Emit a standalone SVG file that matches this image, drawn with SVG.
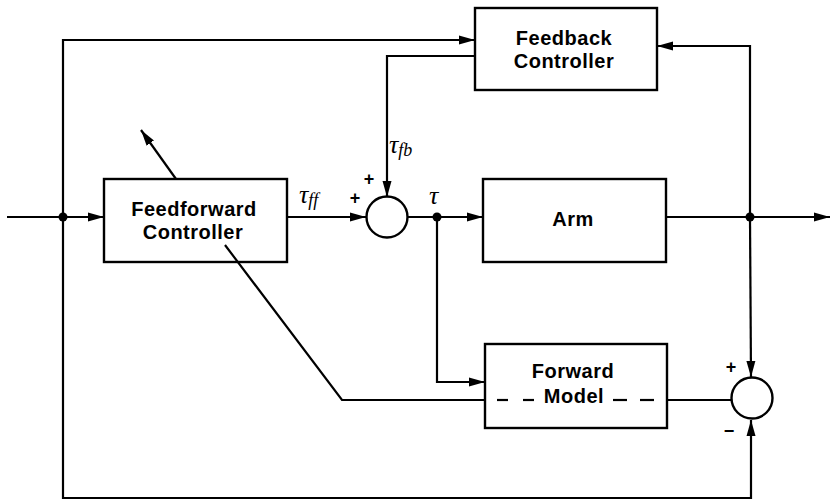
<svg xmlns="http://www.w3.org/2000/svg" width="832" height="502" viewBox="0 0 832 502">
<style>
.ln{fill:none;stroke:#000;stroke-width:2.2;stroke-linejoin:miter}
.box{fill:none;stroke:#000;stroke-width:2.4}
.lbl{font-family:"Liberation Sans",Arial,sans-serif;font-weight:bold;font-size:20px;text-anchor:middle;fill:#000;letter-spacing:0.5px}
.sym{font-family:"Liberation Serif","Times New Roman",serif;font-style:italic;fill:#000}
.pm{font-family:"Liberation Sans",Arial,sans-serif;font-weight:bold;font-size:18px;fill:#000;text-anchor:middle}
.dash{stroke:#000;stroke-width:2.2}
</style>
<defs>
<marker id="arr" markerUnits="userSpaceOnUse" markerWidth="18" markerHeight="12" refX="16" refY="6" orient="auto">
<path d="M0,1.5 L16,6 L0,10.5 z" fill="#000"/>
</marker>
</defs>
<rect width="832" height="502" fill="#fff"/>
<g id="connectors">
<line class="ln" x1="7" y1="217" x2="104" y2="217" marker-end="url(#arr)"/>
<polyline class="ln" points="63,217 63,40 475,40" marker-end="url(#arr)"/>
<polyline class="ln" points="63,217 63,498 751,498 751,420" marker-end="url(#arr)"/>
<line class="ln" x1="287" y1="217" x2="366" y2="217" marker-end="url(#arr)"/>
<polyline class="ln" points="475,56 387,56 387,197" marker-end="url(#arr)"/>
<line class="ln" x1="407" y1="217" x2="483" y2="217" marker-end="url(#arr)"/>
<polyline class="ln" points="437,217 437,382 485,382" marker-end="url(#arr)"/>
<line class="ln" x1="666" y1="217" x2="830" y2="217" marker-end="url(#arr)"/>
<polyline class="ln" points="750,217 750,46 657,46" marker-end="url(#arr)"/>
<line class="ln" x1="750" y1="217" x2="751" y2="377" marker-end="url(#arr)"/>
<line class="ln" x1="176" y1="179" x2="141" y2="130" marker-end="url(#arr)"/>
<polyline class="ln" points="225,245 342,400 485,400"/>
<line class="ln" x1="667" y1="400" x2="731" y2="400"/>
<circle cx="63" cy="217" r="4.5" fill="#000"/>
<circle cx="437" cy="217" r="4.5" fill="#000"/>
<circle cx="750" cy="217" r="4.5" fill="#000"/>
</g>
<g id="feedforward">
<rect class="box" x="104" y="179" width="183" height="83"/>
<text class="lbl" x="194" y="216">Feedforward</text>
<text class="lbl" x="193" y="239">Controller</text>
</g>
<g id="feedback">
<rect class="box" x="475" y="8" width="182" height="82"/>
<text class="lbl" x="564" y="45">Feedback</text>
<text class="lbl" x="564" y="68">Controller</text>
</g>
<g id="arm">
<rect class="box" x="483" y="179" width="183" height="83"/>
<text class="lbl" x="573" y="226">Arm</text>
</g>
<g id="forward-model">
<rect class="box" x="485" y="344" width="182" height="84"/>
<text class="lbl" x="573" y="378">Forward</text>
<text class="lbl" x="574" y="403">Model</text>
<line class="dash" x1="497" y1="400" x2="508" y2="400"/>
<line class="dash" x1="523" y1="400" x2="534" y2="400"/>
<line class="dash" x1="613" y1="400" x2="627" y2="400"/>
<line class="dash" x1="640" y1="400" x2="654" y2="400"/>
</g>
<g id="sum1">
<circle cx="387" cy="217" r="20.5" fill="#fff" stroke="#000" stroke-width="2.4"/>
<text class="pm" x="369" y="185">+</text>
<text class="pm" x="355" y="204">+</text>
</g>
<g id="sum2">
<circle cx="752" cy="398" r="20.5" fill="#fff" stroke="#000" stroke-width="2.4"/>
<text class="pm" x="731" y="373">+</text>
<text class="pm" x="729" y="437">−</text>
</g>
<g id="labels">
<text class="sym" x="299" y="203" font-size="26">τ<tspan font-size="18" dy="3">ff</tspan></text>
<text class="sym" x="389" y="153" font-size="26">τ<tspan font-size="18" dy="3">fb</tspan></text>
<text class="sym" x="429" y="204" font-size="26">τ</text>
</g>
</svg>
